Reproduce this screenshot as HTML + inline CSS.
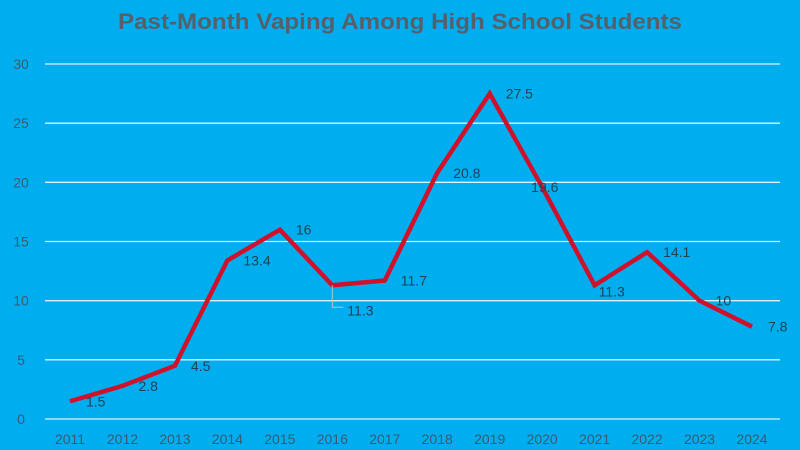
<!DOCTYPE html>
<html><head><meta charset="utf-8"><style>
html,body{margin:0;padding:0;background:#00aeef;}
svg{display:block;font-family:"Liberation Sans",sans-serif;}
</style></head><body>
<svg id="chart" width="800" height="450">
<rect width="800" height="450" fill="#00aeef"/>
<text x="400" y="29" text-anchor="middle" font-size="22" font-weight="bold" fill="#56606a" textLength="564" lengthAdjust="spacingAndGlyphs">Past-Month Vaping Among High School Students</text>
<g id="grid"></g><g id="xaxis"></g><g id="series"></g><g id="labels"></g>
</svg>
<script>
const years=["2011","2012","2013","2014","2015","2016","2017","2018","2019","2020","2021","2022","2023","2024"];
const values=[1.5,2.8,4.5,13.4,16,11.3,11.7,20.8,27.5,19.6,11.3,14.1,10,7.8];
const yTicks=[0,5,10,15,20,25,30];
const NS="http://www.w3.org/2000/svg";
const x0=70,x1=752,yBase=419,yTop=64,yMax=30;
const xs=i=>x0+i*(x1-x0)/(years.length-1);
const ys=v=>yBase-v*(yBase-yTop)/yMax;
function mk(tag,attrs,parent){const e=document.createElementNS(NS,tag);for(const k in attrs)e.setAttribute(k,attrs[k]);parent.appendChild(e);return e;}
const grid=document.getElementById('grid'),xa=document.getElementById('xaxis'),ser=document.getElementById('series'),lab=document.getElementById('labels');
yTicks.forEach(t=>{
 const l=mk('line',{x1:45,x2:780,y1:ys(t),y2:ys(t),stroke:'#d8f2ff','stroke-width':1.3},grid);
 
 
 const tx=mk('text',{x:21,y:ys(t)+5,'text-anchor':'middle','font-size':14,fill:'#3a5a72'},grid);
 tx.textContent=t;
 
 
});
years.forEach((y,i)=>{
 const tx=mk('text',{x:xs(i),y:444,'text-anchor':'middle','font-size':14,fill:'#3a5a72'},xa);
 tx.textContent=y;
 
 
});
const pts=values.map((v,i)=>xs(i)+','+ys(v)).join(' ');
const pl=mk('polyline',{points:pts,fill:'none',stroke:'#d0112b','stroke-width':4.5,'stroke-linejoin':'miter'},ser);


values.forEach((v,i)=>{
 let dx=16,dy=5;
 if(i===9){dx=-11;dy=5;}
 if(i===10){dx=4;dy=11;}
 if(i===5){dx=15;dy=30;
  const ld=mk('polyline',{points:`${xs(i)},${ys(v)} ${xs(i)},${ys(v)+22} ${xs(i)+11},${ys(v)+22}`,fill:'none',stroke:'#b8c4cc','stroke-width':1},lab);
  
  
 }
 const tx=mk('text',{x:xs(i)+dx,y:ys(v)+dy,'font-size':14,fill:'#1f4256'},lab);
 tx.textContent=v;
 
 
});
</script>
</body></html>
